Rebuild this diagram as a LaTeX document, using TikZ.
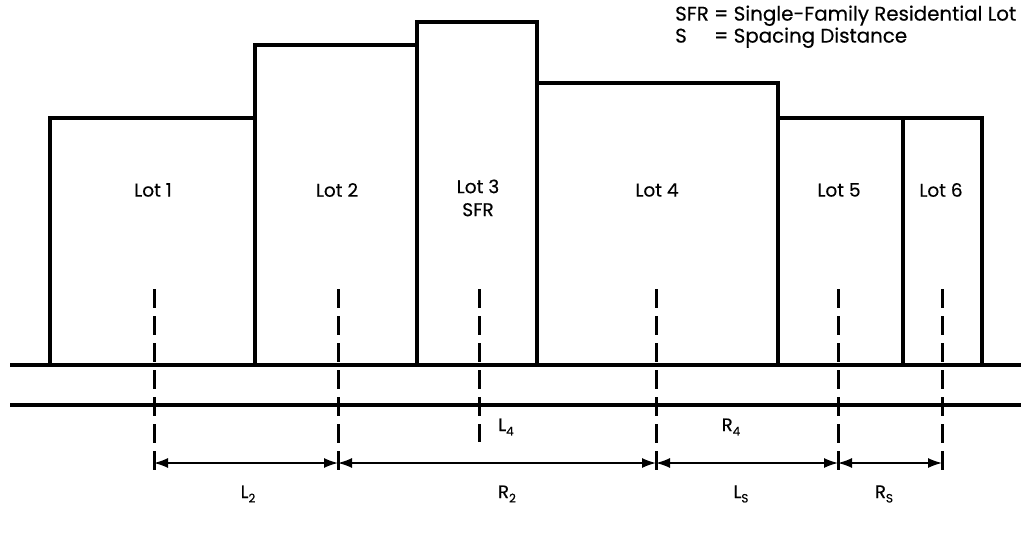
\documentclass[tikz,border=0pt]{standalone}
\usepackage{fontspec}
\setmainfont{Poppins}[FakeBold=0.35]
\usetikzlibrary{arrows.meta}

\newcommand{\distsub}[1]{\raisebox{-0.45ex}{\fontsize{12}{12}\selectfont #1}}

\begin{document}
\begin{tikzpicture}[x=1pt, y=-1pt,
    lot/.style={draw, line width=3.2pt},
    road/.style={line width=3.2pt},
    divider/.style={line width=3pt, dash pattern=on 19pt off 8pt},
    dim/.style={line width=1.5pt, {Latex[length=14pt,width=10pt]}-{Latex[length=14pt,width=10pt]}},
    lotlabel/.style={font=\fontsize{18.5}{23}\selectfont, align=center},
    dimlabel/.style={font=\fontsize{18}{20}\selectfont, inner sep=1pt}]
    \useasboundingbox (0,0) rectangle (1021,535);

    % lots along the street
    \draw[lot] (50,365) rectangle (255,118);
    \draw[lot] (255,365) rectangle (417,45);
    \draw[lot] (417,365) rectangle (537,22);
    \draw[lot] (537,365) rectangle (778,83);
    \draw[lot] (778,365) rectangle (903,118);
    \draw[lot] (903,365) rectangle (982,118);

    \node[lotlabel] (lot1) at (153,190) {Lot 1};
    \node[lotlabel] (lot2) at (337,190) {Lot 2};
    \node[lotlabel, anchor=north] (lot3) at (478,176) {Lot 3\\SFR};
    \node[lotlabel] (lot4) at (657,190) {Lot 4};
    \node[lotlabel] (lot5) at (839,190) {Lot 5};
    \node[lotlabel] (lot6) at (941,190) {Lot 6};

    % street
    \draw[road] (10,365) -- (1021,365);
    \draw[road] (10,405) -- (1021,405);

    % centre lines of the lots
    \foreach \name/\x/\yend in {c1/154/476, c2/338/476, c3/479/442, c4/656/476, c5/838/476, c6/942/476}{
        \draw[divider] (\x,289) -- (\x,\yend);
        \coordinate (\name) at (\x,463);
    }

    % spacing distances
    \draw[dim] (c1) -- (c2);
    \draw[dim] (c2) -- (c4);
    \draw[dim] (c4) -- (c5);
    \draw[dim] (c5) -- (c6);

    \node[dimlabel] (l4) at (506,427) {L\distsub{4}};
    \node[dimlabel] (r4) at (731,427) {R\distsub{4}};
    \node[dimlabel] (l2) at (248,494) {L\distsub{2}};
    \node[dimlabel] (r2) at (507,494) {R\distsub{2}};
    \node[dimlabel] (l5) at (741,494) {L\distsub{S}};
    \node[dimlabel] (r5) at (884,494) {R\distsub{S}};

    % legend
    \node[anchor=north west, inner sep=0pt, font=\fontsize{19.8}{22}\selectfont] (legend) at (675,5)
        {\begin{tabular}{@{}l@{ }l@{}}SFR & = Single-Family Residential Lot\\S & = Spacing Distance\end{tabular}};
\end{tikzpicture}
\end{document}
